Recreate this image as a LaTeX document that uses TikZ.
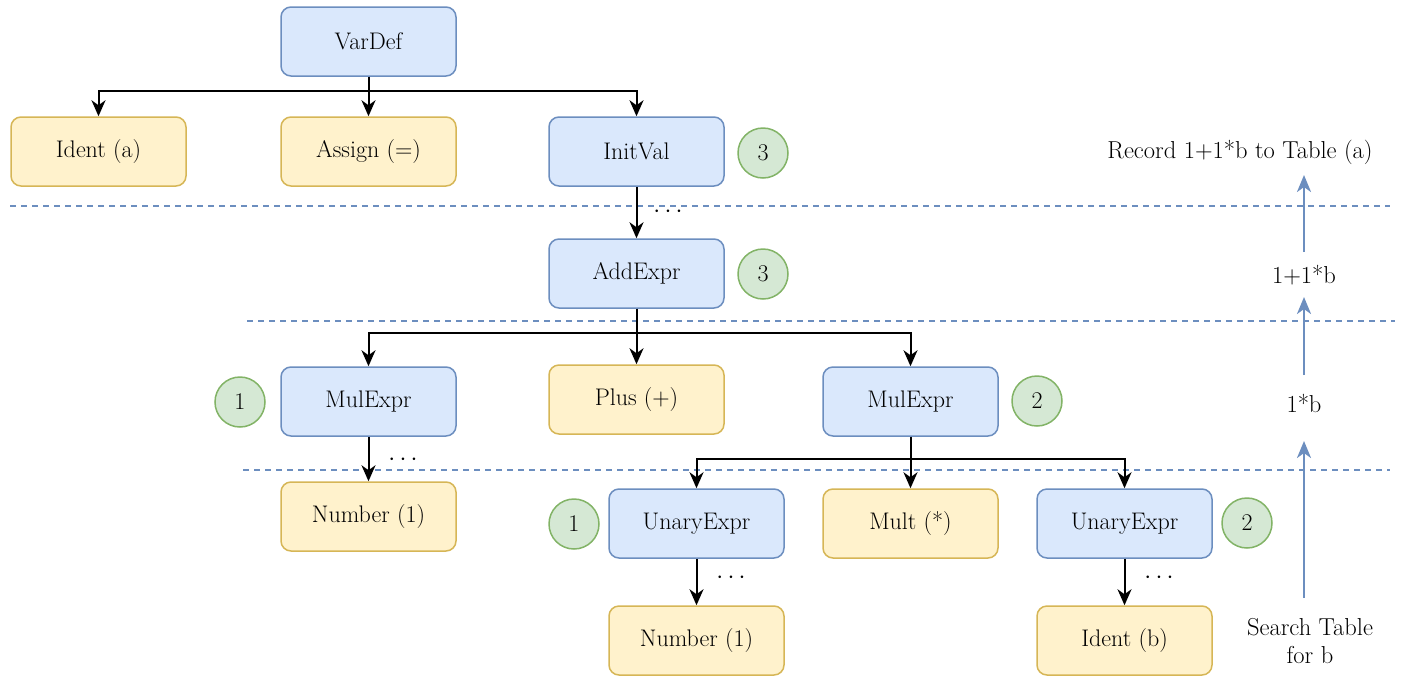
\documentclass[tikz,border=0pt]{standalone}
\usetikzlibrary{arrows.meta}
\definecolor{bfill}{HTML}{DAE8FC}
\definecolor{bdraw}{HTML}{6C8EBF}
\definecolor{yfill}{HTML}{FFF2CC}
\definecolor{ydraw}{HTML}{D6B656}
\definecolor{gfill}{HTML}{D5E8D4}
\definecolor{gdraw}{HTML}{82B366}
\tikzset{
  box/.style={rounded corners=10pt, minimum width=175pt, minimum height=69pt, line width=1.5pt, font=\fontsize{24}{28}\selectfont, inner sep=0pt},
  bluebox/.style={box, fill=bfill, draw=bdraw},
  yellowbox/.style={box, fill=yfill, draw=ydraw},
  badge/.style={circle, minimum size=50pt, inner sep=0pt, fill=gfill, draw=gdraw, line width=1.5pt, font=\fontsize{24}{28}\selectfont},
  conn/.style={line width=2pt, -{Stealth[length=16pt,width=14pt,inset=5pt]}},
  flow/.style={draw=bdraw, line width=2.5pt, -{Stealth[length=17pt,width=14pt,inset=5pt]}},
  sep/.style={draw=bdraw, line width=1.3pt, dash pattern=on 6pt off 5pt},
  lbl/.style={font=\fontsize{24.5}{28}\selectfont, inner sep=0pt, align=center},
  dotsl/.style={font=\fontsize{30}{30}\selectfont, inner sep=0pt}
}
\begin{document}
\begin{tikzpicture}[x=1pt,y=-1pt]
\useasboundingbox (0,0) rectangle (1406,686);
% separators
\draw[sep] (10,206) coordinate (s1a) -- (1390,206) coordinate (s1b);
\draw[sep] (247,321) coordinate (s2a) -- (1395,321) coordinate (s2b);
\draw[sep] (243,470) coordinate (s3a) -- (1390,470) coordinate (s3b);
% nodes
\node[bluebox] (vardef) at (368.5,41.5) {VarDef};
\node[yellowbox] (identa) at (98.5,151.5) {Ident (a)};
\node[yellowbox] (assign) at (368.5,151.5) {Assign (=)};
\node[bluebox] (initval) at (636.5,151.5) {InitVal};
\node[badge] (c3a) at (763,153) {3};
\node[bluebox] (addexpr) at (636.5,273.5) {AddExpr};
\node[badge] (c3b) at (763,274) {3};
\node[bluebox] (mul1) at (368.5,401.5) {MulExpr};
\node[badge] (c1a) at (240,402) {1};
\node[yellowbox] (plus) at (636.5,399.5) {Plus (+)};
\node[bluebox] (mul2) at (910.5,401.5) {MulExpr};
\node[badge] (c2a) at (1037,401) {2};
\node[yellowbox] (num1) at (368.5,516.5) {Number (1)};
\node[bluebox] (un1) at (696.5,523.5) {UnaryExpr};
\node[badge] (c1b) at (574,524) {1};
\node[yellowbox] (mult) at (910.5,523.5) {Mult (*)};
\node[bluebox] (un2) at (1124.5,523.5) {UnaryExpr};
\node[badge] (c2b) at (1247,523) {2};
\node[yellowbox] (num2) at (696.5,640.5) {Number (1)};
\node[yellowbox] (identb) at (1124.5,640.5) {Ident (b)};
% connectors
\draw[conn] (vardef.south) -- ++(0,14) -| (identa.north);
\draw[conn] (vardef.south) -- (assign.north);
\draw[conn] (vardef.south) -- ++(0,14) -| (initval.north);
\draw[conn] (initval.south) -- (addexpr.north);
\node[dotsl] (d1) at (668,212) {$\cdots$};
\draw[conn] (addexpr.south) -- ++(0,24) -| (mul1.north);
\draw[conn] (addexpr.south) -- (plus.north);
\draw[conn] (addexpr.south) -- ++(0,24) -| (mul2.north);
\draw[conn] (mul1.south) -- (num1.north);
\node[dotsl] (d2) at (403,460) {$\cdots$};
\draw[conn] (mul2.south) -- ++(0,22) -| (un1.north);
\draw[conn] (mul2.south) -- (mult.north);
\draw[conn] (mul2.south) -- ++(0,22) -| (un2.north);
\draw[conn] (un1.south) -- (num2.north);
\node[dotsl] (d3) at (731,578) {$\cdots$};
\draw[conn] (un2.south) -- (identb.north);
\node[dotsl] (d4) at (1159,578) {$\cdots$};
% right column
\node[lbl] (rec) at (1240,152) {Record 1+1*b to Table (a)};
\node[lbl] (v2) at (1304,275) {1+1*b};
\node[lbl] (v1) at (1304,403) {1*b};
\node[lbl] (srch) at (1310,641) {Search Table\\for b};
\draw[flow] (1304,252) coordinate (a1s) -- (1304,175) coordinate (a1e);
\draw[flow] (1304,375) coordinate (a2s) -- (1304,297) coordinate (a2e);
\draw[flow] (1304,598) coordinate (a3s) -- (1304,441) coordinate (a3e);
\end{tikzpicture}
\end{document}
